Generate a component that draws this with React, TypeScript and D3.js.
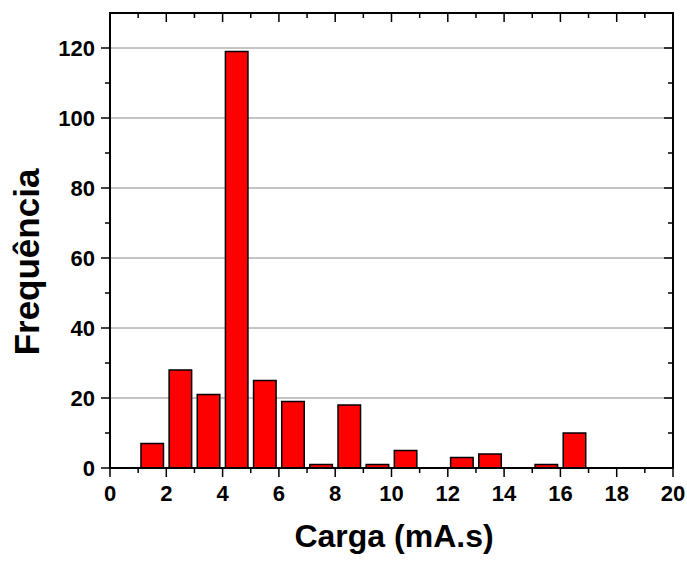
import * as d3 from "d3";

// histogram bins (lower edge, width 1) and counts
const binStarts = [1, 2, 3, 4, 5, 6, 7, 8, 9, 10, 11, 12, 13, 14, 15, 16];
const counts = [7, 28, 21, 119, 25, 19, 1, 18, 1, 5, 0, 3, 4, 0, 1, 10];
const xTicks = [0, 2, 4, 6, 8, 10, 12, 14, 16, 18, 20];
const yTicks = [0, 20, 40, 60, 80, 100, 120];

const W = 687;
const H = 563;
const margin = { left: 110, right: 14, top: 13, bottom: 95 };

export default function App() {
  const x = d3.scaleLinear().domain([0, 20]).range([margin.left, W - margin.right]);
  const y = d3.scaleLinear().domain([0, 130]).range([H - margin.bottom, margin.top]);
  const x0 = x(0), x1 = x(20), y0 = y(0), y1 = y(130);
  const xMinor = d3.range(1, 20, 2);
  const yMinor = d3.range(10, 130, 20);
  const font = "'Liberation Sans', Arial, sans-serif";
  const major = 9, minor = 5;

  return (
    <svg width={W} height={H} style={{ position: "absolute", left: 0, top: 0, background: "#fff" }}
      fontFamily={font} fontWeight="bold">
      {/* grid */}
      {yTicks.filter((t) => t > 0).map((t) => (
        <line key={"g" + t} x1={x0} x2={x1} y1={y(t)} y2={y(t)} stroke="#8a8a8a" strokeWidth={1} />
      ))}
      {/* bars */}
      {binStarts.map((b, i) =>
        counts[i] > 0 ? (
          <rect key={"b" + b} x={x(b + 0.1)} y={y(counts[i])} width={x(b + 0.9) - x(b + 0.1)}
            height={y0 - y(counts[i])} fill="#ff0000" stroke="#000" strokeWidth={1.5} />
        ) : null
      )}
      {/* frame */}
      <rect x={x0} y={y1} width={x1 - x0} height={y0 - y1} fill="none" stroke="#000" strokeWidth={2} />
      {/* x ticks */}
      {xTicks.map((t) => (
        <g key={"xt" + t}>
          <line x1={x(t)} x2={x(t)} y1={y0} y2={y0 + major} stroke="#000" strokeWidth={1.5} />
          <line x1={x(t)} x2={x(t)} y1={y1} y2={y1 + major} stroke="#000" strokeWidth={1.5} />
          <text x={x(t)} y={y0 + 33} fontSize={22} textAnchor="middle">{t}</text>
        </g>
      ))}
      {xMinor.map((t) => (
        <g key={"xm" + t}>
          <line x1={x(t)} x2={x(t)} y1={y0} y2={y0 + minor} stroke="#000" strokeWidth={1.5} />
          <line x1={x(t)} x2={x(t)} y1={y1} y2={y1 + minor} stroke="#000" strokeWidth={1.5} />
        </g>
      ))}
      {/* y ticks */}
      {yTicks.map((t) => (
        <g key={"yt" + t}>
          <line x1={x0 - major} x2={x0} y1={y(t)} y2={y(t)} stroke="#000" strokeWidth={1.5} />
          <line x1={x1 - major} x2={x1} y1={y(t)} y2={y(t)} stroke="#000" strokeWidth={1.5} />
          <text x={x0 - 15} y={y(t) + 8} fontSize={22} textAnchor="end">{t}</text>
        </g>
      ))}
      {yMinor.map((t) => (
        <g key={"ym" + t}>
          <line x1={x0 - minor} x2={x0} y1={y(t)} y2={y(t)} stroke="#000" strokeWidth={1.5} />
          <line x1={x1 - minor} x2={x1} y1={y(t)} y2={y(t)} stroke="#000" strokeWidth={1.5} />
        </g>
      ))}
      {/* axis titles */}
      <text x={394} y={547} fontSize={32} textAnchor="middle">Carga (mA.s)</text>
      <text transform="translate(39,262) rotate(-90)" fontSize={35} textAnchor="middle">Frequência</text>
    </svg>
  );
}
